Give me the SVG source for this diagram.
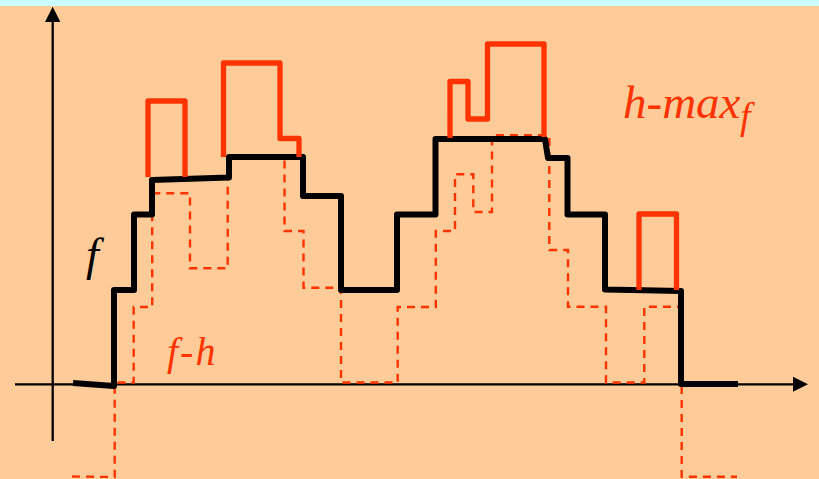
<svg xmlns="http://www.w3.org/2000/svg" width="819" height="479" viewBox="0 0 819 479">
  <style>
    .axis { fill: none; stroke: #000; stroke-width: 2.3; }
    .arrow { fill: #000; stroke: none; }
    .f { fill: none; stroke: #000; stroke-width: 6; stroke-linejoin: round; stroke-linecap: butt; }
    .hmax { fill: none; stroke: #FF3300; stroke-width: 5.3; stroke-linejoin: round; stroke-linecap: butt; }
    .fh { fill: none; stroke: #FF3300; stroke-width: 2.4; stroke-dasharray: 8 6; }
    .lbl { font-family: "Liberation Serif", "Times New Roman", serif; font-style: italic; }
  </style>
  <rect x="0" y="0" width="819" height="479" fill="#FFCC99"/>
  <rect x="0" y="0" width="819" height="6" fill="#CCFFFF"/>

  <g id="axes">
    <line class="axis" x1="15" y1="384.3" x2="795" y2="384.3"/>
    <polygon class="arrow" points="808,384.3 793,376.8 793,391.8"/>
    <line class="axis" x1="52.7" y1="441" x2="52.7" y2="20"/>
    <polygon class="arrow" points="52.7,6.7 45,22 60.4,22"/>
  </g>

  <g id="f-minus-h">
    <path class="fh" d="M72,476.5 L114.7,477 V382.5 H133.7 V307 H152.2 V193.3 H190 V268.3 H227.7 V157 H284.5 V231 H303.5 V287.7 H341 V382.5 H397.7 V307 H435.8 V231 H455 V174.3 H473.3 V212 H492 V135.3 H549.3 V250 H568 V306.7 H606 V382.5 H644.3 V306.7 H681.7 V476.7 H737"/>
  </g>

  <g id="f-curve">
    <path class="f" d="M73,383 L114,386 V290 H134 V214.5 H152 V180 L229,177.5 V157 H303 V196 H341 V290 H397 V214.5 H435.5 V139 H545 L548,158 H567.5 V214.5 H605 V289.5 L681,291 V384 H738"/>
  </g>

  <g id="h-max">
    <path class="hmax" d="M148,177 V101 H185 V177"/>
    <path class="hmax" d="M223.5,157 V63 H280 V138.5 H299 V157"/>
    <path class="hmax" d="M450,138 V81.5 H468 V119 H487.5 V44 H544 V137"/>
    <path class="hmax" d="M639,290 V214 H676.5 V290"/>
  </g>

  <g id="labels">
    <text class="lbl" x="86" y="270" font-size="46" fill="#000">f</text>
    <text class="lbl" x="167" y="365" font-size="40" fill="#FF3300" letter-spacing="2">f-h</text>
    <text class="lbl" x="623" y="118" font-size="47" fill="#FF3300">h-max<tspan font-size="38" x="740" y="129">f</tspan></text>
  </g>
</svg>
